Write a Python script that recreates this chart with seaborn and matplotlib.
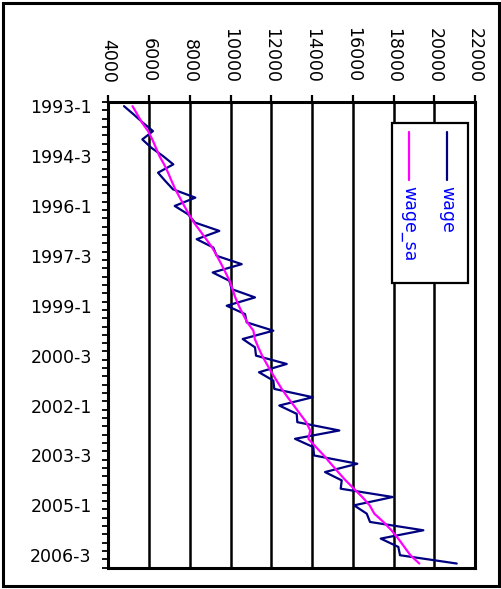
import numpy as np
import pandas as pd
import matplotlib
matplotlib.use("Agg")
import matplotlib.pyplot as plt
from matplotlib.patches import Rectangle
from matplotlib.lines import Line2D
import seaborn as sns

# ---- data (quarterly, 1993Q1 .. 2006Q4) ----
years = list(range(1993, 2007))
quarters = [1, 2, 3, 4]
periods = [f"{y}-{q}" for y in years for q in quarters]

wage = [4771, 5247, 5703, 6194, 5669, 6111, 6685, 7191,
        6440, 6798, 7176, 8271, 7260, 7913, 8256, 9449,
        8340, 9154, 9321, 10549, 9125, 9940, 10058, 11201,
        9812, 10711, 10794, 12100, 10598, 11201, 11251, 12758,
        11398, 12100, 12149, 14034, 12394, 13249, 13278, 15340,
        13165, 14063, 14098, 16223, 14638, 15458, 15408, 17961,
        16062, 16685, 16847, 19464, 17372, 18236, 18319, 21103]

wage_sa = [5188, 5424, 5659, 5954, 6160, 6337, 6509, 6739,
           6935, 7107, 7289, 7510, 7731, 7957, 8202, 8506,
           8806, 9100, 9331, 9547, 9753, 9955, 10097, 10234,
           10406, 10607, 10823, 11123, 11192, 11363, 11550, 11776,
           12011, 12262, 12512, 12802, 13106, 13410, 13715, 13911,
           13823, 14196, 14579, 14928, 15281, 15649, 16056, 16464,
           16827, 17058, 17505, 17897, 18231, 18531, 18830, 19267]

x_ticks = [4000, 6000, 8000, 10000, 12000, 14000, 16000, 18000, 20000, 22000]
series_names = ["wage", "wage_sa"]

df = pd.DataFrame({"period": periods, "pos": np.arange(len(periods)),
                   "wage": wage, "wage_sa": wage_sa})

sns.set_style("white")
plt.rcParams["font.family"] = ["DejaVu Sans"]
plt.rcParams["text.color"] = "black"
plt.rcParams["xtick.color"] = "black"
plt.rcParams["ytick.color"] = "black"
plt.rcParams["xtick.labelcolor"] = "black"
plt.rcParams["ytick.labelcolor"] = "black"

W, H = 502, 589
fig = plt.figure(figsize=(W / 100, H / 100), dpi=100)
ax_l, ax_r, ax_t, ax_b = 108.3, 475.0, 102.0, 567.7
ax = fig.add_axes([ax_l / W, 1 - ax_b / H, (ax_r - ax_l) / W, (ax_b - ax_t) / H])

c_wage = "#000080"
c_sa = "#ff00ff"
sns.lineplot(data=df, x="wage", y="pos", orient="y", sort=False, estimator=None,
             color=c_wage, lw=1.6, ax=ax, zorder=3)
sns.lineplot(data=df, x="wage_sa", y="pos", orient="y", sort=False, estimator=None,
             color=c_sa, lw=1.6, ax=ax, zorder=4)

n = len(periods)
ax.set_xlim(x_ticks[0], x_ticks[-1])
ax.set_ylim(n - 0.5, -0.5)

ax.xaxis.tick_top()
ax.set_xticks(x_ticks)
ax.set_xticklabels([str(v) for v in x_ticks])
ax.tick_params(axis="x", which="major", direction="out", length=5, width=1.6,
               color="black", labelcolor="black", labelrotation=-90,
               labelsize=12.5, pad=9, top=True, bottom=False)

ax.set_yticks(np.arange(0, n, 6))
ax.set_yticklabels(periods[::6])
ax.set_yticks(np.arange(-0.5, n, 1), minor=True)
ax.tick_params(axis="y", which="major", length=0, labelsize=12.5, pad=12,
               labelcolor="black")
ax.tick_params(axis="y", which="minor", direction="out", length=4, width=1.3,
               color="black", left=True)

ax.set_axisbelow(True)
ax.grid(axis="x", color="black", lw=1.8)
ax.grid(axis="y", visible=False)
for s in ax.spines.values():
    s.set_color("black")
    s.set_linewidth(2.2)
    s.set_visible(True)
ax.set_xlabel("")
ax.set_ylabel("")

# ---- rotated legend ----
def fx(px):
    return (px - ax_l) / (ax_r - ax_l)

def fy(py):
    return 1 - (py - ax_t) / (ax_b - ax_t)

ax.add_patch(Rectangle((fx(391.7), fy(283)), fx(468) - fx(391.7), fy(123) - fy(283),
                       transform=ax.transAxes, facecolor="white", edgecolor="black",
                       lw=1.6, zorder=5))
for px, name, col in [(447, series_names[0], c_wage), (409, series_names[1], c_sa)]:
    ax.add_artist(Line2D([fx(px), fx(px)], [fy(132), fy(180)], transform=ax.transAxes,
                         color=col, lw=1.6, zorder=6))
    ax.text(fx(px), fy(186), name, transform=ax.transAxes, rotation=-90,
            ha="center", va="top", color="#0000ff", fontsize=12.5, zorder=6)

# ---- outer frame ----
fig.patches.append(Rectangle((3 / W, 3 / H), (W - 6) / W, (H - 6) / H,
                             transform=fig.transFigure, fill=False,
                             edgecolor="black", lw=2.2))

fig.savefig("out.png", dpi=100)
